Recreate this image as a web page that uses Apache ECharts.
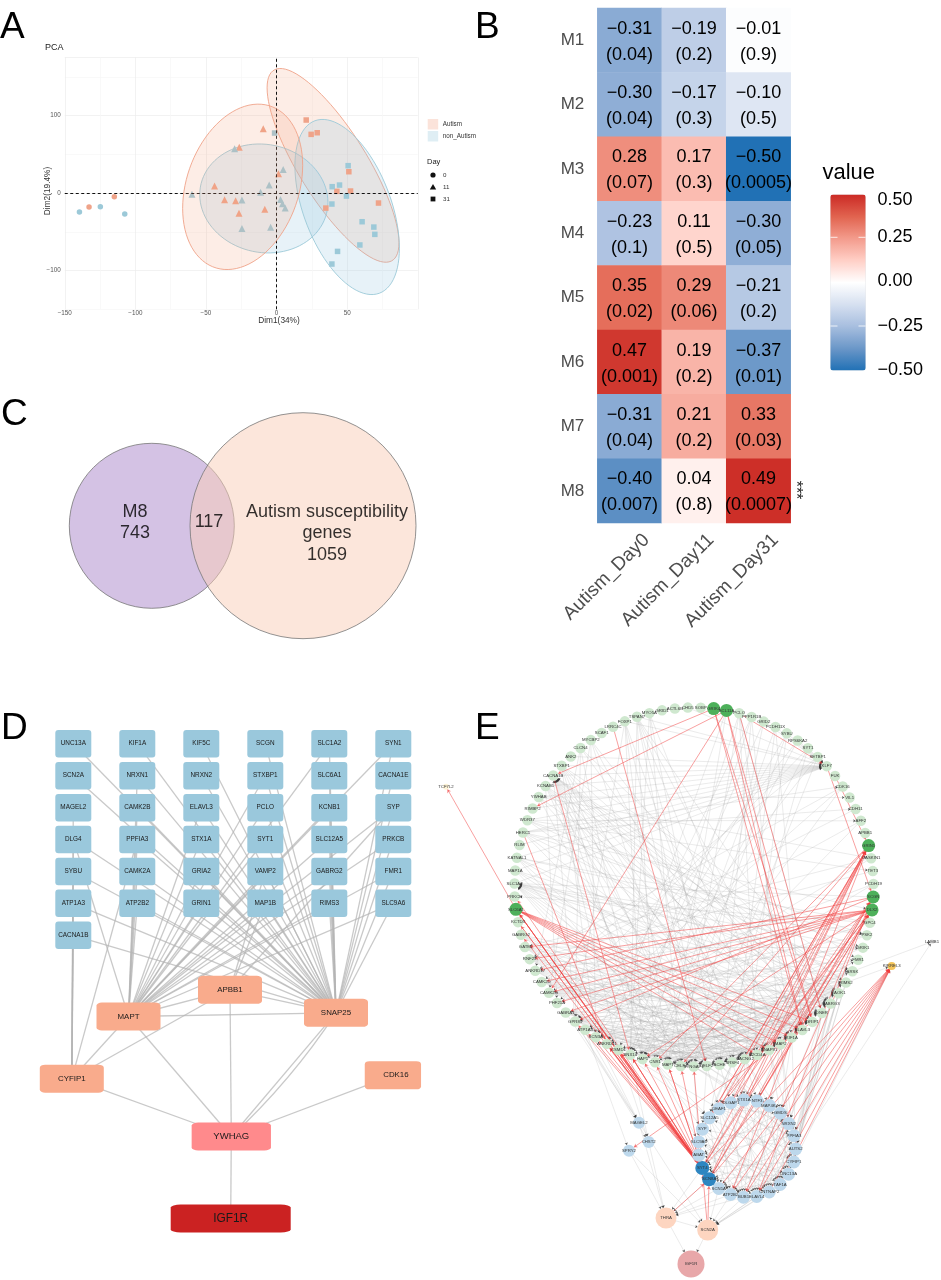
<!DOCTYPE html>
<html>
<head>
<meta charset="utf-8">
<style>html,body{margin:0;padding:0;background:#fff}#main{width:941px;height:1280px}</style>
<script src="https://cdn.jsdelivr.net/npm/echarts@6/dist/echarts.min.js"></script>
</head>
<body>
<div id="main"></div>
<script>
// ---------- Panel A: PCA ----------
const autismDay0 = [[-132.8,-18],[-114.9,-4.7]];
const controlDay0 = [[-139.6,-24.5],[-124.8,-17.6],[-107.5,-27]];
const autismDay11 = [[-9.4,83],[-26.4,59],[-43.9,9],[-36.8,-8.6],[-29,-10],[-26.6,-26],[-8.3,-21],[1.4,25]];
const controlDay11 = [[-29.7,57],[-59.9,-1.7],[-24.5,-9],[-24.5,-45.6],[-4.2,-44.3],[-5.2,10.3],[-11.3,0.9],[4.7,30.5],[2.8,-8.2],[4.2,-13.8],[6.1,-19.4]];
const autismDay31 = [[21,94.2],[24.5,75.7],[28.8,77.8],[51.2,27.5],[42.7,2.2],[52.4,2.6],[72.2,-12.9],[34.9,-19.4]];
const controlDay31 = [[-1.4,77.4],[50.7,35.3],[39.4,8.2],[44.6,10.3],[49.5,-3.9],[39.2,-14.2],[60.6,-37],[68.9,-43.9],[69.6,-53.3],[59,-67],[43.2,-75.3],[39.2,-91.6]];
// ellipses: centre x, centre y, half-extent x, half-extent y, correlation
const ellipseAutismDay11 = [-24, 8, 42.5, 106.7, 0.26];
const ellipseAutismDay31 = [40, 35.7, 46.7, 125, -0.8];
const ellipseControlDay11 = [-9, -7, 45.4, 70.3, -0.07];
const ellipseControlDay31 = [50, -18, 37, 113, -0.47];

// ---------- Panel B: heatmap ----------
const modules = ['M1','M2','M3','M4','M5','M6','M7','M8'];
const conditions = ['Autism_Day0','Autism_Day11','Autism_Day31'];
const corrDay0 = [-0.31,-0.30,0.28,-0.23,0.35,0.47,-0.31,-0.40];
const corrDay11 = [-0.19,-0.17,0.17,0.11,0.29,0.19,0.21,0.04];
const corrDay31 = [-0.01,-0.10,-0.50,-0.30,-0.21,-0.37,0.33,0.49];
const pDay0 = ['0.04','0.04','0.07','0.1','0.02','0.001','0.04','0.007'];
const pDay11 = ['0.2','0.3','0.3','0.5','0.06','0.2','0.2','0.8'];
const pDay31 = ['0.9','0.5','0.0005','0.05','0.2','0.01','0.03','0.0007'];
const colorbarTicks = ['0.50','0.25','0.00','−0.25','−0.50'];

// ---------- Panel C: Venn ----------
const vennTexts = ['M8\n743','117','Autism susceptibility\ngenes\n1059'];

// ---------- Panel D: PPI ----------
const dColumns = [
  ['UNC13A','SCN2A','MAGEL2','DLG4','SYBU','ATP1A3','CACNA1B'],
  ['KIF1A','NRXN1','CAMK2B','PPFIA3','CAMK2A','ATP2B2'],
  ['KIF5C','NRXN2','ELAVL3','STX1A','GRIA2','GRIN1'],
  ['SCGN','STXBP1','PCLO','SYT1','VAMP2','MAP1B'],
  ['SLC1A2','SLC6A1','KCNB1','SLC12A5','GABRG2','RIMS3'],
  ['SYN1','CACNA1E','SYP','PRKCB','FMR1','SLC9A6']
];
const dHubs = ['MAPT','APBB1','SNAP25','CYFIP1','CDK16','YWHAG','IGF1R'];
const dMaptLinks = ['DLG4','NRXN1','CAMK2B','PPFIA3','CAMK2A','ATP2B2','ELAVL3','STX1A','GRIA2','GRIN1','STXBP1','PCLO','SYT1','VAMP2','MAP1B','SLC1A2','KCNB1','SLC12A5','GABRG2','RIMS3','SYN1','SYP','PRKCB','FMR1','SLC9A6','APBB1','SNAP25','CYFIP1','YWHAG'];
const dSnapLinks = ['UNC13A','SCN2A','DLG4','SYBU','ATP1A3','CACNA1B','KIF1A','NRXN1','CAMK2B','PPFIA3','CAMK2A','ATP2B2','KIF5C','NRXN2','ELAVL3','STX1A','GRIA2','GRIN1','SCGN','STXBP1','PCLO','SYT1','VAMP2','MAP1B','SLC1A2','SLC6A1','KCNB1','SLC12A5','GABRG2','RIMS3','SYN1','CACNA1E','SYP','PRKCB','FMR1','SLC9A6','APBB1','YWHAG'];
const dApbbLinks = ['VAMP2','MAP1B','SYP','CYFIP1','YWHAG'];
const dCyfipLinks = ['MAGEL2','DLG4','SYBU','ATP1A3','CACNA1B','PPFIA3','YWHAG'];
const dYwhagLinks = ['CDK16','IGF1R'];

// ---------- Panel E: directed network ----------
const outerRing = ['GRIK4','BCL11A','PCLO','PPP1R1B','GRID2','PCDH11X','SYBU','RPS6KA2','SYT1','SETBP1','KLF7','FUK','CDK16','VIL1','CDH11','AFF2','APBB1','GRIN1','CASKIN1','TET3','PCDH19','SCGN','DLX2','GPC4','PSK2','GRIK1','FMR1','ARSK','RIMS2','TAOK1','GABRG3','DNER','GRIP1','ELAVL3','KIF1A','MAP2','SNAP91','C2CD4A','CACNG2','SRSF4','ACHE','CELF2','SYNGAP1','CELF4','MAPT','CNR1','HAP1','SNX14','CSMD1','ANKRD11','SCN3A','ATP1A3','GPR85','GABRA1','PHF21A','CAMK2G','CAMK2D','ANKRD17','RNF25','GATM','GABRG2','KCTD3','SLC6A1','PRKCB','SLC1A2','MAP1A','KATNAL1','RLIM','HERC1','WDR37','RIMBP2','YWHAB','KCNAB1','CACNA1B','STXBP1','ANK2','CLCN4','MYCBP2','SCAF1','LRRC4C','FOXP1','TSPAN7','MYO5A','GRID1','ACTL6B','CHD5','SOBP'];
const outerStrong = [0,1,17,21,22,62];
const innerRing = ['DEAF1','DLGAP1','STX1A','NTF3','MAP4K4','GMDS','NRXN2','PPFIA3','AUTS2','CYFIP1','UNC13A','TAF1A','CNTNAP2','ELAVL4','BUB1','ATP2B2','SCN1A','SCN8A','SYT4','ABAT','SLC9A6','SYP','SLC12A5'];
const innerStrong = [17,18];
const freeNodes = ['MAGEL2','CHST2','SPRY2','THRA','SCN2A','IGF1R','TCF7L2','KIRREL3','LAMB1'];
// first entry of each row is the hub the other nodes point into
const greyIntoHubs = [
[10,73,74,72,71,70,69,68,67,66,65,64,80,81,85,5,6,7,8,4,75],
[73,27,28,29,30,31,33,35,37,39,41,43,45,48,52],
[64,24,25,26,28,29,31,33,36,38,40,42,44,21]
];
// each row: source followed by its targets (0-86 outer ring, 100+ inner ring, 200+ free nodes)
const greyEdges = [
[74,26,30,34,38,42,46,50],[72,28,32,36,40,44,54],[68,12,14,22,25,29,34,38],[69,15,19,24,27,32],
[71,13,18,30,36,43],[81,33,36,39,41,45,47,30],[80,38,41,44,46,52],[82,35,40,43,47],[77,32,37,42,50,55],
[76,29,34,46,52,57],[66,30,33,38,42,23,24],[65,27,31,35,41],[55,26,28,30,31,33,35,37],
[56,25,29,32,34,36,38],[57,27,30,33,36,39,41],[58,28,31,34,37,40],[59,29,32,35,38,41,43],[60,30,33,36,39,42],
[53,29,31,34,37,39,41,43],[52,30,32,35,38,40,42],[51,31,33,35,37,40],[50,29,32,34,36,39],[49,31,33,36,38],
[48,28,30,32,34,37,40],[47,29,31,35,36,38],[46,27,30,33,37],[45,28,32,35],[44,26,29,31,34,36],[41,28,30,33,35],
[2,31,34,37,43,47],[3,35,40,46,50],[4,42,48],[5,33,39,45],[6,38,44,49],[7,47,52],
[8,40,46,54],[9,42,50,56],[1,44,49],[12,46,52,58],[14,57],[15,47,55],[19,58],
[18,51,59],[20,49,54],[23,52,57,63],[24,50,55],[25,48,53,59],[26,45,51],
[27,43,47,49,52],[28,42,46,50],[29,40,44],
[38,100,101,102,103,104,105],[39,100,102,122,121],[40,101,103,105,122],[41,100,104,106,121],[42,102,103,106,120],
[35,103,104,106,107],[34,104,105,108],[36,102,105,107],[45,121,122,120],[48,122,100],[31,105,106,108,109],
[30,106,107,109,110],[29,107,108,110,111],[28,108,110],
[100,105,107,109,111,113,115],[101,106,108,110,112,114,117],[102,107,109,111,113,116,118],[103,108,110,112,114,117],
[104,109,111,113,115,118],[105,110,112,114,116,119],[106,111,113,115,118,120],[107,112,114,116,119],[108,113,115,117,121],
[109,114,116,118,122],[110,115,117,119],[111,116,118,120],[122,112,114,116],[121,111,113,115],[120,110,112,114],
[51,200,202],[50,200],[52,200,201],[53,200],[48,201],[47,201],[200,203,204],[202,203,204],[201,203],[118,203],
[116,203,204],[115,203,204],[113,204],[112,204],[111,204],[114,203,204],[203,204,205],[204,205],[117,203],[110,204],
[27,208],[28,207],[108,208],[109,207],[107,207]
];
const redEdges = [
[118,62,63,61,60,52,51,50,49,48,47,46,45,44,43,42,17,21,22,207],
[117,62,49,48,47,17,21,22,207],
[62,118,117,206,33,32,34,35,36,37],
[61,118],[49,118],[48,118],[47,117],
[122,17,22],[121,17],[100,17,22],[101,17,21],[102,17],[103,21,22],
[116,207],[115,207],[114,207],[113,207],[111,207],[112,207],
[0,33,32,73],[1,33,32,70,55],[2,10,31],[79,41],[73,47],[68,49],[10,21],[11,17],
[22,55,56,53,59,58,46,54],[21,57,52,113,114],[17,43,115,45],[204,117,118],[203,117],[32,202],[44,118]
];

// ---------- builders ----------
const FONT = '"Liberation Sans", Arial, sans-serif';
const ORANGE = '#EFA389', BLUE = '#9CC9D8';
const ROUND = 'path://M3,0H33a3,3 0 0 1 3,3V24a3,3 0 0 1 -3,3H3a3,3 0 0 1 -3,-3V3a3,3 0 0 1 3,-3Z';

function ellipseSeries(params, stroke, fill) {
  return {
    type: 'custom', xAxisIndex: 0, yAxisIndex: 0, silent: true, z: 2,
    encode: { x: 0, y: 1 },
    data: [params],
    renderItem: function (p, api) {
      const cx = api.value(0), cy = api.value(1), rx = api.value(2), ry = api.value(3), rho = api.value(4);
      const pts = [];
      for (let k = 0; k < 90; k++) {
        const t = k / 90 * Math.PI * 2;
        pts.push(api.coord([cx + rx * Math.cos(t), cy + ry * Math.cos(t - Math.acos(rho))]));
      }
      return { type: 'polygon', shape: { points: pts }, style: { fill: fill, stroke: stroke, lineWidth: 0.9 } };
    }
  };
}
function dots(data, symbol, size, color) {
  return { type: 'scatter', xAxisIndex: 0, yAxisIndex: 0, symbol: symbol, symbolSize: size, z: 4, silent: true,
    itemStyle: { color: color, opacity: 1 }, data: data };
}

const heatData = [];
[corrDay0, corrDay11, corrDay31].forEach(function (col, i) {
  const ps = [pDay0, pDay11, pDay31][i];
  col.forEach(function (v, j) {
    heatData.push({ value: [i, j, v], p: ps[j] });
  });
});

// panel D graph
const dColX = [73.3, 137.3, 201.3, 265.3, 329.3, 393.3];
const dRowY = [743.7, 775.7, 807.7, 839.5, 871.5, 903.3, 935.3];
const dNodes = [];
dColumns.forEach(function (col, i) {
  col.forEach(function (n, j) {
    dNodes.push({ name: n, value: [dColX[i], dRowY[j]], symbolSize: [36, 27.5], itemStyle: { color: '#9AC8DC' },
      label: { fontSize: 6.4 } });
  });
});
const dHubLayout = {
  MAPT: [128.5,1016.5,64,28,'#F9AB8C',7.9], APBB1: [230,989.8,64,28,'#F9AB8C',7.9], SNAP25: [336,1012.8,64,28,'#F9AB8C',7.9],
  CYFIP1: [71.8,1078.7,64,28,'#F9AB8C',7.9], CDK16: [392.9,1075.3,56.3,28,'#F9AB8C',7.9],
  YWHAG: [231.3,1136.5,79.3,28,'#FF8A8C',9.5], IGF1R: [230.7,1218.5,120,28,'#CB2222',11.9]
};
dHubs.forEach(function (n) {
  const l = dHubLayout[n];
  dNodes.push({ name: n, value: [l[0], l[1]], symbolSize: [l[2], l[3]], itemStyle: { color: l[4] },
    label: { fontSize: l[5], offset: n === 'CDK16' ? [3, 0] : [0, 0] } });
});
const dLinks = [];
function addD(hub, list) { list.forEach(function (t) { dLinks.push({ source: t, target: hub }); }); }
addD('MAPT', dMaptLinks); addD('SNAP25', dSnapLinks); addD('APBB1', dApbbLinks); addD('CYFIP1', dCyfipLinks); addD('YWHAG', dYwhagLinks);
dLinks.push({ source: 'SNAP25', target: 'YWHAG', lineStyle: { curveness: 0.06 } });

// panel E graph
const OUT_C = [694, 887], OUT_R = 179.5, OUT_START = 6.3;
const IN_C = [747, 1148.7], IN_R = 48.7, IN_START = 325;
function ring(c, r, start, n, i) {
  const a = (start + i * 360 / n) * Math.PI / 180;
  return [c[0] + r * Math.sin(a), c[1] - r * Math.cos(a)];
}
const eNodes = [];
outerRing.forEach(function (n, i) {
  const strong = outerStrong.indexOf(i) >= 0;
  eNodes.push({ name: 'o' + i, value: ring(OUT_C, OUT_R, OUT_START, outerRing.length, i),
    symbolSize: strong ? 13 : 10.5, itemStyle: { color: strong ? '#4DB05A' : '#CFE8CF' }, label: { formatter: n } });
});
innerRing.forEach(function (n, i) {
  const strong = innerStrong.indexOf(i) >= 0;
  eNodes.push({ name: 'i' + i, value: ring(IN_C, IN_R, IN_START, innerRing.length, i),
    symbolSize: strong ? 14 : 13, itemStyle: { color: strong ? '#2E86C1' : '#BDD8EC' }, label: { formatter: n } });
});
const freeLayout = {
  MAGEL2: [639,1122.7,12,'#BDD8EC'], CHST2: [648.7,1142,12,'#BDD8EC'], SPRY2: [629,1150.7,12,'#BDD8EC'],
  THRA: [666,1218,21,'#FDD5C0'], SCN2A: [707.7,1230,21,'#FDD5C0'], IGF1R: [691,1264,27,'#E8A7A9'],
  TCF7L2: [446,786.7,6,'#FDF3D6'], KIRREL3: [891.7,966,8,'#F5C65B'], LAMB1: [932,941.7,5,'#EEEEEE']
};
freeNodes.forEach(function (n) {
  const l = freeLayout[n];
  eNodes.push({ name: 'f' + n, value: [l[0], l[1]], symbolSize: l[2], itemStyle: { color: l[3] }, label: { formatter: n } });
});
function nodeIndex(id) {
  if (id < 100) return id;
  if (id < 200) return outerRing.length + id - 100;
  return outerRing.length + innerRing.length + id - 200;
}
const eLinks = [];
function addGrey(a, b) {
  const s = nodeIndex(a), d = nodeIndex(b);
  eLinks.push({ source: s, target: d, symbolSize: 2.4, lineStyle: { color: '#A0A0A0', opacity: 0.36, width: 0.6 } });
  // dark arrow head of the same edge (the grey line itself is too faint to colour it)
  eLinks.push({ source: s, target: d, symbolSize: 2.4, lineStyle: { color: '#222', opacity: 0.75, width: 0 } });
}
greyIntoHubs.forEach(function (row) { row.slice(1).forEach(function (f) { addGrey(f, row[0]); }); });
greyEdges.forEach(function (row) { row.slice(1).forEach(function (t) { addGrey(row[0], t); }); });
redEdges.forEach(function (row) {
  row.slice(1).forEach(function (t) {
    eLinks.push({ source: nodeIndex(row[0]), target: nodeIndex(t), symbolSize: 3.4, lineStyle: { color: '#F03E3E', opacity: 0.62, width: 0.8 } });
  });
});

// static text and legends
function txt(s, x, y, size, opt) {
  opt = opt || {};
  return { type: 'text', silent: true, z: 20, x: x, y: y, rotation: opt.rotation || 0,
    style: { text: s, font: size + 'px ' + FONT, fill: opt.fill || '#000', textAlign: opt.align || 'left', textVerticalAlign: 'middle' } };
}
const graphics = [
  txt('A', 0, 28, 37), txt('B', 475, 28, 37), txt('C', 1, 415, 37), txt('D', 1, 729, 37), txt('E', 475, 729, 37),
  txt('PCA', 45, 48, 9, { fill: '#222' }),
  txt('Dim1(34%)', 279, 321, 8.3, { align: 'center', fill: '#333' }),
  txt('Dim2(19.4%)', 48, 191, 8.3, { align: 'center', rotation: Math.PI / 2, fill: '#333' }),
  { type: 'rect', silent: true, z: 20, shape: { x: 427.7, y: 119, width: 10.5, height: 10.5 }, style: { fill: '#FBE3DA' } },
  { type: 'rect', silent: true, z: 20, shape: { x: 427.7, y: 131, width: 10.5, height: 10.5 }, style: { fill: '#DFEEF4' } },
  txt('Autism', 442.7, 124.5, 6.3, { fill: '#333' }), txt('non_Autism', 442.7, 136.5, 6.3, { fill: '#333' }),
  txt('Day', 427, 161.5, 7.5, { fill: '#222' }),
  { type: 'circle', silent: true, z: 20, shape: { cx: 433, cy: 175, r: 2.6 }, style: { fill: '#111' } },
  { type: 'polygon', silent: true, z: 20, shape: { points: [[433, 184], [436.2, 189.4], [429.8, 189.4]] }, style: { fill: '#111' } },
  { type: 'rect', silent: true, z: 20, shape: { x: 430.6, y: 196.6, width: 4.8, height: 4.8 }, style: { fill: '#111' } },
  txt('0', 443, 175, 6.2, { fill: '#333' }), txt('11', 443, 187, 6.2, { fill: '#333' }), txt('31', 443, 199, 6.2, { fill: '#333' }),
  txt('value', 822.5, 173, 22),
  txt('***', 795, 490, 16, { rotation: -Math.PI / 2, align: 'center', fill: '#222' })
];
const colorbarY = [200.5, 237.5, 281.5, 326, 370.5];
colorbarTicks.forEach(function (t, i) { graphics.push(txt(t, 877.5, colorbarY[i], 18, { fill: '#000' })); });
[237.3, 326].forEach(function (y) {
  graphics.push({ type: 'line', silent: true, z: 20, shape: { x1: 830.4, y1: y, x2: 837.5, y2: y }, style: { stroke: '#fff', lineWidth: 0.8 } });
  graphics.push({ type: 'line', silent: true, z: 20, shape: { x1: 858.5, y1: y, x2: 865.6, y2: y }, style: { stroke: '#fff', lineWidth: 0.8 } });
});

const GRID_MAJOR = '#ECECEC', GRID_MINOR = '#F6F6F6';
const chart = echarts.init(document.getElementById('main'), null, { renderer: 'canvas', width: 941, height: 1280 });
chart.setOption({
  animation: false,
  backgroundColor: '#fff',
  textStyle: { fontFamily: FONT },
  grid: [
    { left: 64.75, top: 57.4, width: 353, height: 251.9 },
    { left: 597.3, top: 8, width: 193.4, height: 515 },
    { left: 0, top: 0, width: 941, height: 1280 }
  ],
  xAxis: [
    { type: 'value', gridIndex: 0, min: -150, max: 100, interval: 25,
      axisLine: { show: false }, axisTick: { show: false },
      splitLine: { lineStyle: { color: [GRID_MAJOR, GRID_MINOR], width: 0.7 } },
      axisLabel: { fontSize: 6.3, color: '#555', margin: 1,
        formatter: function (v) { return (v % 50 === 0 && v < 100) ? String(v).replace('-', '−') : ''; } } },
    { type: 'category', gridIndex: 1, data: conditions, position: 'bottom',
      axisLine: { show: false }, axisTick: { alignWithLabel: true, length: 6, lineStyle: { color: '#EBEBEB', width: 1.4 } },
      axisLabel: { rotate: 45, fontSize: 19, color: '#4d4d4d', margin: 31, interval: 0,
        align: 'right', verticalAlign: 'middle', padding: [0, -24, 0, 0] } },
    { type: 'category', gridIndex: 1, data: conditions, position: 'top',
      axisLine: { show: false }, axisTick: { alignWithLabel: true, length: 7, lineStyle: { color: '#EBEBEB', width: 1.4 } },
      axisLabel: { show: false } },
    { type: 'value', gridIndex: 2, min: 0, max: 941, show: false }
  ],
  yAxis: [
    { type: 'value', gridIndex: 0, min: -150, max: 175, interval: 50,
      axisLine: { show: false }, axisTick: { show: false },
      splitLine: { lineStyle: { color: [GRID_MINOR, GRID_MAJOR], width: 0.7 } },
      axisLabel: { fontSize: 6.3, color: '#555', margin: 4,
        formatter: function (v) { return (v === 100 || v === 0 || v === -100) ? String(v).replace('-', '−') : ''; } } },
    { type: 'category', gridIndex: 1, data: modules, inverse: true, position: 'left',
      axisLine: { show: false }, axisTick: { alignWithLabel: true, length: 6, lineStyle: { color: '#EBEBEB', width: 1.4 } },
      axisLabel: { fontSize: 17, color: '#4d4d4d', margin: 13, interval: 0 } },
    { type: 'category', gridIndex: 1, data: modules, inverse: true, position: 'right',
      axisLine: { show: false }, axisTick: { alignWithLabel: true, length: 6, lineStyle: { color: '#EBEBEB', width: 1.4 } },
      axisLabel: { show: false } },
    { type: 'value', gridIndex: 2, min: 0, max: 1280, inverse: true, show: false }
  ],
  visualMap: {
    type: 'continuous', seriesIndex: 10, min: -0.5, max: 0.5, calculable: false, showLabel: false, text: null,
    left: 830.3, top: 194.5, itemWidth: 35.4, itemHeight: 176, padding: 0, orient: 'vertical', hoverLink: false,
    inRange: { color: ['#2171B5','#6B97C8','#A7BEDF','#D6E0F0','#FFFFFF','#FFCFC6','#F39B8C','#E1634F','#CB2A25'] }
  },
  graphic: graphics,
  series: [
    Object.assign(ellipseSeries(ellipseAutismDay11, ORANGE, 'rgba(244,165,130,0.2)'), {
      markLine: { silent: true, symbol: 'none', label: { show: false }, animation: false,
        lineStyle: { color: '#111', type: [3, 2.5], width: 1 }, data: [{ xAxis: 0 }, { yAxis: 0 }] }, z: 5 }),
    ellipseSeries(ellipseAutismDay31, ORANGE, 'rgba(244,165,130,0.2)'),
    ellipseSeries(ellipseControlDay11, BLUE, 'rgba(146,197,222,0.22)'),
    ellipseSeries(ellipseControlDay31, BLUE, 'rgba(146,197,222,0.22)'),
    dots(autismDay0, 'circle', 5.5, ORANGE),
    dots(controlDay0, 'circle', 5.5, BLUE),
    dots(autismDay11, 'triangle', 7, ORANGE),
    dots(controlDay11, 'triangle', 7, BLUE),
    dots(autismDay31, 'rect', 5.5, ORANGE),
    dots(controlDay31, 'rect', 5.5, BLUE),
    { type: 'heatmap', xAxisIndex: 1, yAxisIndex: 1, data: heatData, silent: true, z: 3,
      itemStyle: { borderWidth: 0 },
      label: { show: true, fontSize: 18, lineHeight: 26, color: '#000', offset: [0, 1.5],
        formatter: function (p) {
          const v = p.value[2];
          return (v < 0 ? '−' : '') + Math.abs(v).toFixed(2) + '\n(' + p.data.p + ')';
        } } },
    { type: 'scatter', xAxisIndex: 3, yAxisIndex: 3, silent: true, z: 3, symbol: 'circle',
      data: [
        { value: [151.8, 525.8], symbolSize: 165, itemStyle: { opacity: 1, color: '#D4C2E4', borderColor: '#777', borderWidth: 0.8 } },
        { value: [303, 525.7], symbolSize: 226, itemStyle: { opacity: 1, color: 'rgba(250,206,184,0.5)', borderColor: '#777', borderWidth: 0.8 } }
      ] },
    { type: 'scatter', xAxisIndex: 3, yAxisIndex: 3, silent: true, z: 6, symbolSize: 0,
      label: { show: true, position: 'inside', fontSize: 18, lineHeight: 21.7, color: '#000',
        formatter: function (p) { return p.data.text; } },
      data: [
        { value: [135, 522.5], text: vennTexts[0] },
        { value: [209, 522], text: vennTexts[1] },
        { value: [327, 533.5], text: vennTexts[2] }
      ] },
    { type: 'graph', layout: 'none', coordinateSystem: 'cartesian2d', xAxisIndex: 3, yAxisIndex: 3, silent: true, z: 3,
      symbol: ROUND, data: dNodes, links: dLinks,
      label: { show: true, position: 'inside', color: '#1a1a1a' },
      lineStyle: { color: '#B4B4B4', opacity: 0.72, width: 1.3 } },
    { type: 'graph', layout: 'none', coordinateSystem: 'cartesian2d', xAxisIndex: 3, yAxisIndex: 3, silent: true, z: 3,
      symbol: 'circle', data: eNodes, links: eLinks, edgeSymbol: ['none', 'arrow'], edgeSymbolSize: 3,
      label: { show: true, position: 'inside', color: '#333', fontSize: 4.3 } }
  ]
});
</script>
</body>
</html>
